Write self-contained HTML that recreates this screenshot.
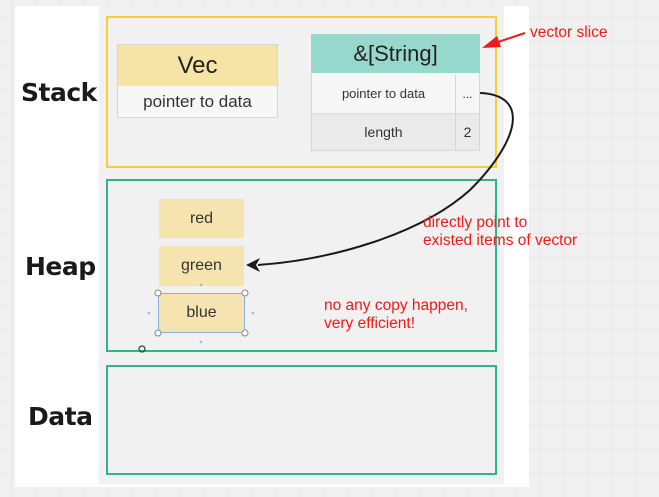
<!DOCTYPE html>
<html><head><style>
*{margin:0;padding:0;box-sizing:border-box}
body{width:659px;height:497px;position:relative;overflow:hidden;background:#f0f0f0;font-family:"Liberation Sans",sans-serif;
background-image:linear-gradient(#e8e8e8 1px,transparent 1px),linear-gradient(90deg,#e8e8e8 1px,transparent 1px);background-size:24px 24px;background-position:0 17px,11px 0}
.a{position:absolute}
.lbl{font-family:"DejaVu Sans",sans-serif;font-weight:bold;font-size:25px;color:#1a1a1a;letter-spacing:-0.5px}
.c{display:flex;align-items:center;justify-content:center;color:#333}
.red{color:#f01a1a;font-size:15.5px;line-height:18px}
</style></head><body>
<div class="a" style="left:15px;top:6px;width:514px;height:481px;background:#fff"></div>
<div class="a" style="left:99px;top:6px;width:405px;height:478px;background:#f1f1f1"></div>
<div class="a lbl" style="left:21px;top:78px">Stack</div>
<div class="a lbl" style="left:25px;top:252px">Heap</div>
<div class="a lbl" style="left:28px;top:402px">Data</div>
<div class="a" style="left:106px;top:16px;width:391px;height:152px;border:2px solid #f5cf3a"></div>
<div class="a" style="left:106px;top:179px;width:391px;height:173px;border:2px solid #2fb394"></div>
<div class="a" style="left:106px;top:365px;width:391px;height:110px;border:2px solid #2fb394"></div>

<div class="a" style="left:117px;top:44px;width:161px;height:74px;border:1px solid #d6d6d6;background:#f7f7f7"></div>
<div class="a c" style="left:118px;top:45px;width:159px;height:41px;background:#f5e4a6;font-size:24px;color:#222">Vec</div>
<div class="a c" style="left:118px;top:86px;width:159px;height:31px;font-size:17px">pointer to data</div>

<div class="a" style="left:311px;top:34px;width:169px;height:117px;border:1px solid #d6d6d6;background:#f7f7f7"></div>
<div class="a c" style="left:311px;top:34px;width:169px;height:39px;background:#96d8cb;font-size:22px;color:#222">&amp;[String]</div>
<div class="a c" style="left:312px;top:74px;width:144px;height:39px;font-size:13px;border-right:1px solid #d6d6d6">pointer to data</div>
<div class="a c" style="left:456px;top:74px;width:23px;height:39px;font-size:12px">...</div>
<div class="a c" style="left:312px;top:113px;width:144px;height:37px;font-size:14px;background:#eaeaea;border-right:1px solid #d6d6d6;border-top:1px solid #ddd">length</div>
<div class="a c" style="left:456px;top:113px;width:23px;height:37px;font-size:14px;background:#eaeaea;border-top:1px solid #ddd">2</div>

<div class="a c" style="left:159px;top:199px;width:85px;height:39px;background:#f5e4b0;font-size:16px">red</div>
<div class="a c" style="left:159px;top:246px;width:85px;height:40px;background:#f5e4b0;font-size:16px">green</div>
<div class="a c" style="left:158px;top:293px;width:87px;height:40px;background:#f5e4b0;font-size:16px;border:1px solid #8ab0e0">blue</div>

<svg class="a" style="left:0;top:0" width="659" height="497">
<g fill="#fff" stroke="#888" stroke-width="1">
<circle cx="158" cy="293" r="3"/><circle cx="245" cy="293" r="3"/><circle cx="158" cy="333" r="3"/><circle cx="245" cy="333" r="3"/></g>
<g fill="#9bb8e8"><circle cx="201" cy="285" r="1.3"/><circle cx="201" cy="342" r="1.3"/><circle cx="149" cy="313" r="1.3"/><circle cx="253" cy="313" r="1.3"/></g>
<circle cx="142" cy="349" r="3" fill="none" stroke="#444" stroke-width="1.3"/>
<path d="M480 93 C530 95,520 140,470 190 C420 235,330 260,258 265" fill="none" stroke="#1a1a1a" stroke-width="2"/>
<path d="M246 265 L260 258 L256 265 L260 272 Z" fill="#1a1a1a"/>
<line x1="525" y1="33" x2="495" y2="43" stroke="#f01a1a" stroke-width="2"/>
<path d="M482 48 L497 36 L501 47 Z" fill="#f01a1a"/>
</svg>
<div class="a red" style="left:530px;top:24px">vector slice</div>
<div class="a red" style="left:423px;top:214px">directly point to<br>existed items of vector</div>
<div class="a red" style="left:324px;top:297px">no any copy happen,<br>very efficient!</div>
</body></html>
